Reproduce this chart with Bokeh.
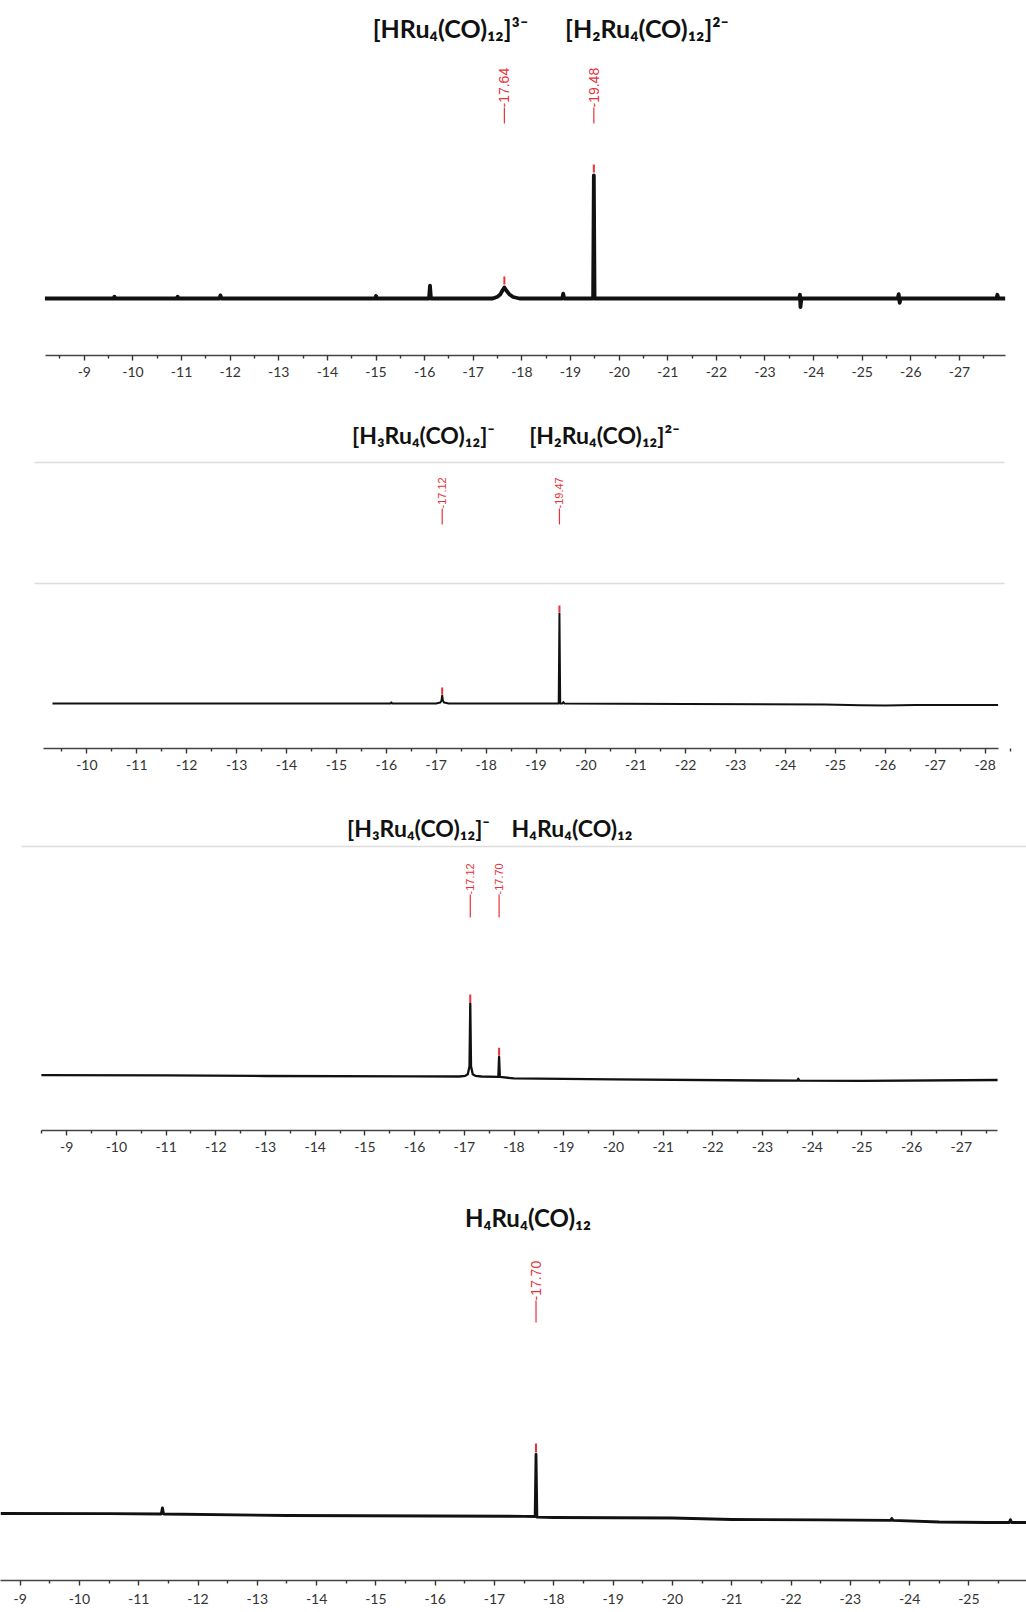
import math
from bokeh.plotting import figure
from bokeh.models import Range1d, FixedTicker, Label
from bokeh.layouts import column
from bokeh.core.properties import value
from bokeh.embed import file_html
from bokeh.resources import INLINE

# ---------------- data (chemical shift in ppm, relative intensity) ----------------
p1_ppm = [-8.19, -9.60, -9.62, -9.64, -10.90, -10.92, -10.94, -11.78, -11.80, -11.82,
          -14.98, -15.00, -15.02, -16.09, -16.11, -16.13, -17.40, -17.50, -17.56, -17.60,
          -17.64, -17.68, -17.74, -17.82, -17.95, -18.83, -18.85, -18.87, -19.465, -19.48,
          -19.495, -23.70, -23.72, -23.73, -23.75, -25.73, -25.75, -25.77, -25.79, -27.76,
          -27.78, -27.80, -27.94]
p1_int = [0, 0, 1.5, 0, 0, 1.5, 0, 0, 2.5, 0,
          0, 2, 0, 0, 10.5, 0, 0, 1.5, 3.5, 6.5,
          9, 6.5, 3.5, 1.2, 0, 0, 4, 0, 0, 100,
          0, 0, 3, -7, 0, 0, 3.5, -3.5, 0, 0,
          3, 0, 0]
p1_peaks = [-17.64, -19.48]
p1_peak_int = [9, 100]
p1_peak_labels = ["-17.64", "-19.48"]
p1_titles = ["[HRu\u2084(CO)\u2081\u2082]\u00b3\u207b", "[H\u2082Ru\u2084(CO)\u2081\u2082]\u00b2\u207b"]
p1_ticks = ["-9", "-10", "-11", "-12", "-13", "-14", "-15", "-16", "-17", "-18",
            "-19", "-20", "-21", "-22", "-23", "-24", "-25", "-26", "-27"]

p2_ppm = [-9.31, -16.08, -16.10, -16.12, -17.00, -17.08, -17.105, -17.12, -17.135, -17.16,
          -17.25, -19.455, -19.47, -19.485, -19.53, -19.55, -19.57, -22.0, -24.8, -25.5,
          -26.0, -26.6, -28.26]
p2_int = [0, 0, 1.2, 0, 0, 1, 3, 9, 3, 1,
          0, 0, 100, 0, 0, 1.5, 0, -0.5, -1, -2,
          -2.2, -1.8, -1.6]
p2_peaks = [-17.12, -19.47]
p2_peak_int = [9, 100]
p2_peak_labels = ["-17.12", "-19.47"]
p2_titles = ["[H\u2083Ru\u2084(CO)\u2081\u2082]\u207b", "[H\u2082Ru\u2084(CO)\u2081\u2082]\u00b2\u207b"]
p2_ticks = ["-10", "-11", "-12", "-13", "-14", "-15", "-16", "-17", "-18", "-19",
            "-20", "-21", "-22", "-23", "-24", "-25", "-26", "-27", "-28"]

p3_ppm = [-8.49, -11.0, -13.0, -16.0, -16.9, -17.02, -17.07, -17.105, -17.12, -17.135,
          -17.17, -17.22, -17.35, -17.685, -17.70, -17.715, -18.0, -20.0, -23.0, -23.70,
          -23.72, -23.74, -25.0, -27.73]
p3_int = [2, 1.5, 0.7, 0.3, 0, 1, 3, 14, 100, 14,
          3, 1, 0, -0.5, 27, -0.5, -2.7, -4, -5.5, -5.7,
          -3, -5.7, -6, -4.8]
p3_peaks = [-17.12, -17.70]
p3_peak_int = [100, 27]
p3_peak_labels = ["-17.12", "-17.70"]
p3_titles = ["[H\u2083Ru\u2084(CO)\u2081\u2082]\u207b", "H\u2084Ru\u2084(CO)\u2081\u2082"]
p3_ticks = ["-9", "-10", "-11", "-12", "-13", "-14", "-15", "-16", "-17", "-18",
            "-19", "-20", "-21", "-22", "-23", "-24", "-25", "-26", "-27"]

p4_ppm = [-8.67, -10.5, -11.38, -11.40, -11.42, -13.5, -16.0, -17.5, -17.685, -17.70,
          -17.715, -18.0, -20.0, -21.0, -22.5, -23.68, -23.70, -23.72, -24.5, -25.3,
          -25.68, -25.70, -25.72, -25.97]
p4_int = [4.8, 4.5, 4.0, 14, 4.0, 1.6, 0.8, 0.3, 0, 100,
          -1, -1.6, -2.4, -4.8, -5.6, -6.4, -3, -6.4, -8.9, -9.7,
          -9.7, -5, -9.7, -9.7]
p4_peaks = [-17.70]
p4_peak_int = [100]
p4_peak_labels = ["-17.70"]
p4_titles = ["H\u2084Ru\u2084(CO)\u2081\u2082"]
p4_ticks = ["-9", "-10", "-11", "-12", "-13", "-14", "-15", "-16", "-17", "-18",
            "-19", "-20", "-21", "-22", "-23", "-24", "-25", "-26"]

# ---------------- layout / style ----------------
PAGE_X0, PAGE_X1 = 0, 1026
RED = "#e8313a"
INK = "#111111"

panels = [
    dict(ppm=p1_ppm, inten=p1_int, peaks=p1_peaks, peak_int=p1_peak_int, labels=p1_peak_labels,
         titles=p1_titles, ticks=p1_ticks,
         top=0, height=400, axis=355, base=298, scale=1.23,
         ref_px=83.8, ref_ppm=-9, ppp=48.62, bounds=(45, 1005), lw=3.8,
         lab_font="14px", lab_bottom=107, lab_line=(107, 123), mark=(3, 8),
         title_font="25px", title_base=27, title_cx=[450, 646.5], gray=[], gray_x=None,
         standoff=6),
    dict(ppm=p2_ppm, inten=p2_int, peaks=p2_peaks, peak_int=p2_peak_int, labels=p2_peak_labels,
         titles=p2_titles, ticks=p2_ticks,
         top=400, height=390, axis=748, base=703, scale=0.9,
         ref_px=86.4, ref_ppm=-10, ppp=49.9, bounds=(42.5, 997.6), lw=2.0,
         lab_font="11px", lab_bottom=508, lab_line=(508, 524), mark=(1, 7),
         title_font="23px", title_base=434, title_cx=[423, 604], gray=[462, 583], gray_x=(34, 1004),
         standoff=6),
    dict(ppm=p3_ppm, inten=p3_int, peaks=p3_peaks, peak_int=p3_peak_int, labels=p3_peak_labels,
         titles=p3_titles, ticks=p3_ticks,
         top=790, height=385, axis=1130, base=1076, scale=0.73,
         ref_px=66.2, ref_ppm=-9, ppp=49.7, bounds=(40.6, 997), lw=2.3,
         lab_font="11px", lab_bottom=894, lab_line=(894, 917), mark=(1, 8),
         title_font="23px", title_base=827, title_cx=[418, 571.5], gray=[846], gray_x=(21, 1026),
         standoff=6),
    dict(ppm=p4_ppm, inten=p4_int, peaks=p4_peaks, peak_int=p4_peak_int, labels=p4_peak_labels,
         titles=p4_titles, ticks=p4_ticks,
         top=1175, height=436, axis=1580, base=1516, scale=0.62,
         ref_px=19.6, ref_ppm=-9, ppp=59.3, bounds=(0, 1026), lw=2.8,
         lab_font="14px", lab_bottom=1300, lab_line=(1300, 1322), mark=(2, 9),
         title_font="24px", title_base=1217, title_cx=[527.5], gray=[], gray_x=None,
         standoff=8),
]


def build(P):
    ux = lambda px: P["ref_ppm"] - (px - P["ref_px"]) / P["ppp"]
    uy = lambda py: (P["base"] - py) / P["scale"]
    bottom = P["top"] + P["height"] - P["axis"]
    p = figure(width=PAGE_X1 - PAGE_X0, height=P["height"],
               x_range=Range1d(ux(PAGE_X0), ux(PAGE_X1)),
               y_range=Range1d(uy(P["axis"]), uy(P["top"])),
               output_backend="svg", toolbar_location=None,
               y_axis_location=None, x_axis_location="below",
               min_border_left=0, min_border_right=0, min_border_top=0,
               min_border_bottom=bottom)
    p.grid.visible = False
    p.outline_line_color = None
    p.background_fill_color = "white"
    p.border_fill_color = "white"

    # thin gray separator lines
    for gy in P["gray"]:
        p.segment(x0=[ux(P["gray_x"][0])], y0=[uy(gy)], x1=[ux(P["gray_x"][1])], y1=[uy(gy)],
                  line_color="#dcdcdc", line_width=1.5)

    # spectrum
    p.line(P["ppm"], P["inten"], line_color=INK, line_width=P["lw"], line_join="round")

    # peak markers just above peak tops
    g, L = P["mark"]
    p.segment(x0=P["peaks"], y0=[v + g / P["scale"] for v in P["peak_int"]],
              x1=P["peaks"], y1=[v + (g + L) / P["scale"] for v in P["peak_int"]],
              line_color=RED, line_width=2)

    # peak labels (vertical)
    n = len(P["peaks"])
    p.segment(x0=P["peaks"], y0=[uy(P["lab_line"][1])] * n, x1=P["peaks"], y1=[uy(P["lab_line"][0])] * n,
              line_color=RED, line_width=1.2)
    p.text(x=P["peaks"], y=[uy(P["lab_bottom"])] * n, text=P["labels"], angle=math.pi / 2,
           text_align="left", text_baseline="middle", text_color=RED,
           text_font=value("Liberation Sans"), text_font_size=value(P["lab_font"]))

    # titles
    for t, cx in zip(P["titles"], P["title_cx"]):
        p.add_layout(Label(x=ux(cx), y=uy(P["title_base"]), text=t, text_align="center",
                           text_baseline="alphabetic", text_font="Lato", text_font_style="bold",
                           text_font_size=P["title_font"], text_color=INK))

    # axis
    ticks = [float(t) for t in P["ticks"]]
    minor = [t + 0.5 for t in ticks] + [ticks[-1] - 0.5]
    ax = p.xaxis[0]
    ax.ticker = FixedTicker(ticks=ticks, minor_ticks=minor)
    ax.major_label_overrides = {float(t): t for t in P["ticks"]}
    b0, b1 = ux(P["bounds"][0]), ux(P["bounds"][1])
    ax.bounds = (min(b0, b1), max(b0, b1))
    ax.axis_line_color = "#444444"
    ax.axis_line_width = 1.6
    ax.major_tick_line_color = "#333333"
    ax.minor_tick_line_color = "#333333"
    ax.major_tick_line_width = 1.4
    ax.minor_tick_line_width = 1.4
    ax.major_tick_in = 0
    ax.major_tick_out = 5
    ax.minor_tick_in = 0
    ax.minor_tick_out = 3
    ax.major_label_standoff = P["standoff"]
    ax.major_label_text_font = "Lato"
    ax.major_label_text_font_size = "14px"
    ax.major_label_text_color = "#333333"
    return p


figs = [build(P) for P in panels]
layout = column(*figs, spacing=0)
open("out.html", "w").write(file_html(layout, INLINE))
